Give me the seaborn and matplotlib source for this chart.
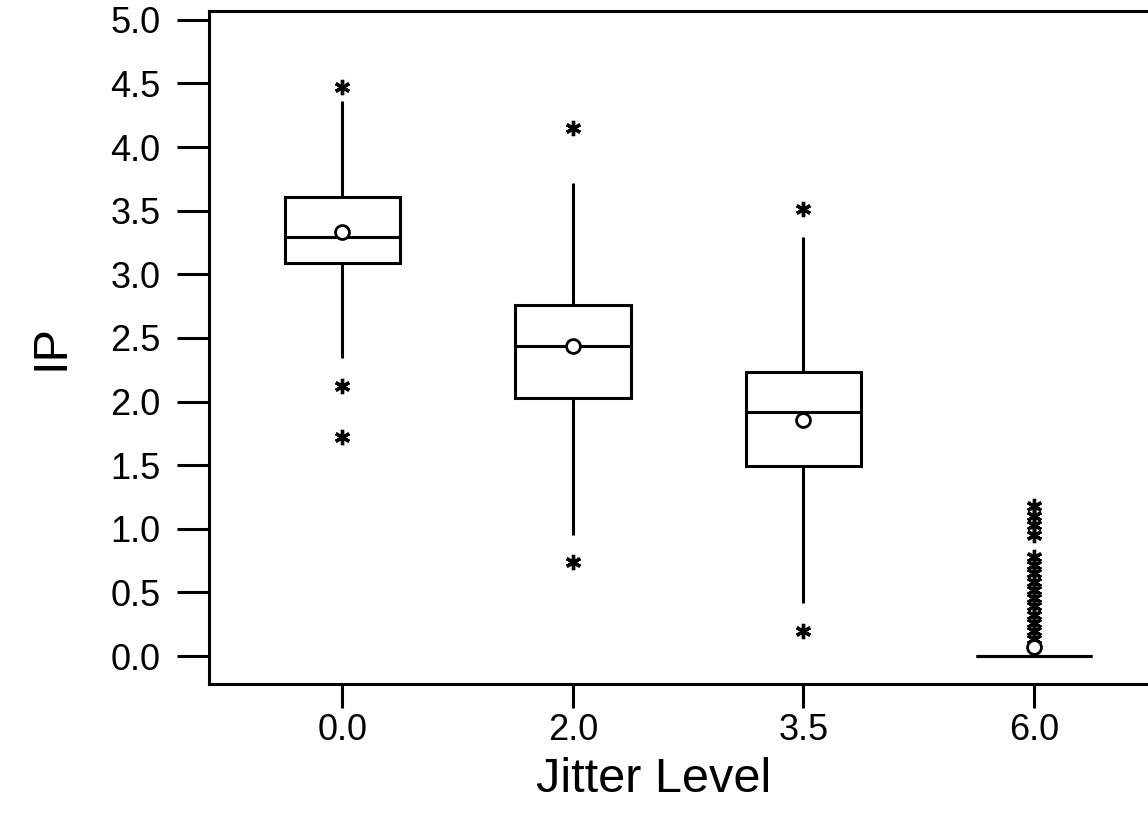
import numpy as np
import pandas as pd
import matplotlib
matplotlib.use("Agg")
import matplotlib.pyplot as plt
import seaborn as sns

# IP measurements per jitter level
jitter_levels = ["0.0", "2.0", "3.5", "6.0"]

ip_jitter_00 = [1.72, 2.12, 2.34, 3.05, 3.08, 3.09, 3.15, 3.20, 3.24, 3.27, 3.29,
                3.36, 3.44, 3.50, 3.56, 3.605, 3.95, 4.06, 4.20, 4.36, 4.47]
ip_jitter_20 = [0.74, 0.95, 1.55, 1.80, 1.88, 2.03, 2.12, 2.22, 2.31, 2.38, 2.44,
                2.52, 2.59, 2.65, 2.71, 2.76, 3.05, 3.27, 3.40, 3.72, 4.15]
ip_jitter_35 = [0.20, 0.42, 0.70, 0.95, 1.35, 1.49, 1.58, 1.68, 1.78, 1.86, 1.92,
                1.99, 2.06, 2.12, 2.18, 2.235, 2.40, 2.49, 2.75, 3.29, 3.51]
# at the highest jitter most trials give IP = 0, a few are non-zero
ip_jitter_60_nonzero = [1.18, 1.10, 1.03, 0.95, 0.78, 0.715, 0.65, 0.585, 0.52,
                        0.455, 0.39, 0.325, 0.26, 0.195, 0.13]
ip_jitter_60_zero_count = 109

ip_jitter_60 = ip_jitter_60_nonzero + [0.0] * ip_jitter_60_zero_count

groups = [ip_jitter_00, ip_jitter_20, ip_jitter_35, ip_jitter_60]
df = pd.DataFrame({
    "Jitter Level": np.concatenate([[lvl] * len(g) for lvl, g in zip(jitter_levels, groups)]),
    "IP": np.concatenate(groups),
})

yticks = [0.0, 0.5, 1.0, 1.5, 2.0, 2.5, 3.0, 3.5, 4.0, 4.5, 5.0]

sns.set_style("white")
plt.rcParams["font.family"] = ["Liberation Sans", "DejaVu Sans"]
plt.rcParams["text.color"] = "black"
plt.rcParams["axes.labelcolor"] = "black"

fig = plt.figure(figsize=(11.48, 8.18), dpi=100)
ax = fig.add_axes([0.182, 0.1638, 0.818, 0.8228])

lw = 2.2
sns.boxplot(
    data=df, x="Jitter Level", y="IP", order=jitter_levels, ax=ax,
    width=0.5, color="white", linecolor="black", linewidth=lw,
    showcaps=False, whis=1.5,
    showmeans=True,
    meanprops=dict(marker="o", markerfacecolor="white", markeredgecolor="black",
                   markersize=10, markeredgewidth=2),
    flierprops=dict(marker=(6, 2, 0), markersize=11, markeredgecolor="black",
                    markerfacecolor="black", markeredgewidth=2.4),
)

ax.set_xlim(-0.578, 3.494)
ax.set_ylim(-0.22, 5.07)
ax.set_yticks(yticks)
ax.set_yticklabels([f"{t:.1f}" for t in yticks])

for side in ["left", "bottom", "top"]:
    ax.spines[side].set_visible(True)
    ax.spines[side].set_color("black")
    ax.spines[side].set_linewidth(lw)
ax.spines["right"].set_visible(False)

ax.tick_params(axis="y", direction="out", length=23, width=lw, labelsize=26, pad=12,
               colors="black", labelcolor="black")
ax.tick_params(axis="x", direction="out", length=17, width=lw, labelsize=26, pad=4,
               colors="black", labelcolor="black")
ax.tick_params(left=True, bottom=True)

ax.set_xlabel("Jitter Level", fontsize=35, color="black")
ax.set_ylabel("IP", fontsize=35, color="black", labelpad=26)
ax.xaxis.set_label_coords(0.474, -0.108)

fig.savefig("out.png", dpi=100)
